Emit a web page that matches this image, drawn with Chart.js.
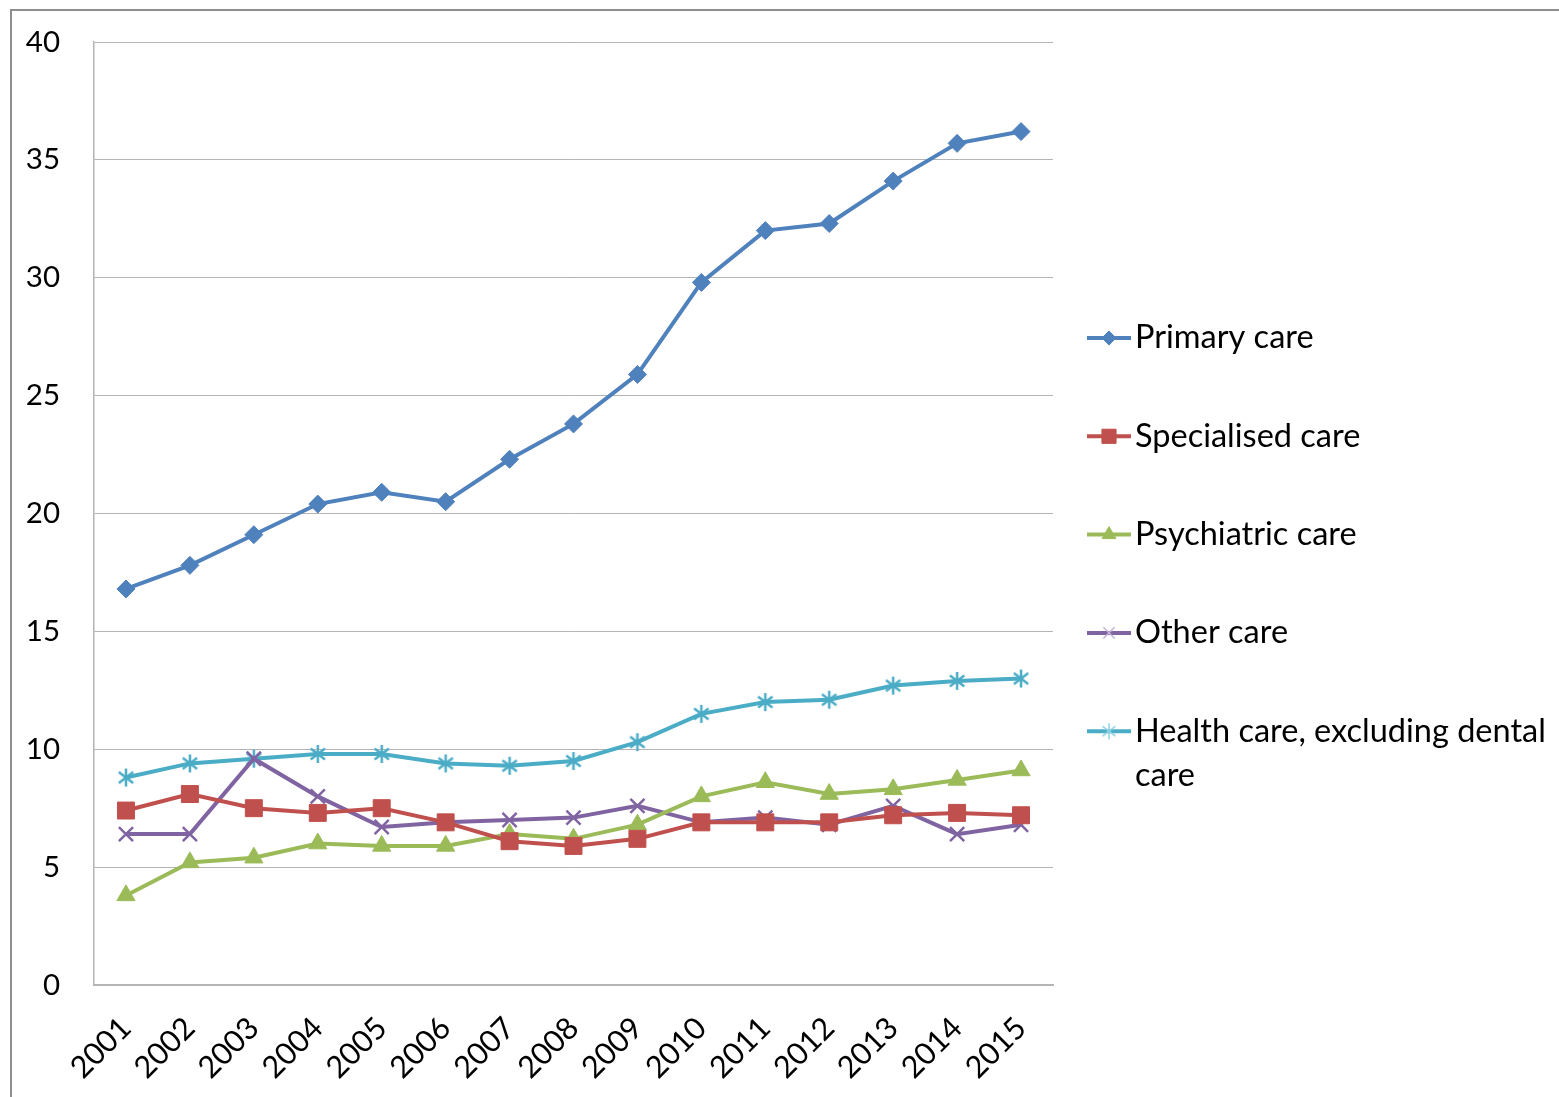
<!DOCTYPE html>
<html>
<head>
<meta charset="utf-8">
<script src="https://cdn.jsdelivr.net/npm/chart.js@4.4.0/dist/chart.umd.min.js"></script>
<style>
html, body { margin: 0; padding: 0; background: #fff; overflow: hidden; }
#frame { position: absolute; left: 10px; top: 9px; width: 1600px; height: 1200px; border: 2px solid #8e8e8e; }
#wrap { position: absolute; left: 0; top: 0; width: 1559px; height: 1097px; }
</style>
</head>
<body>
<div id="frame"></div>
<div id="wrap"><canvas id="myChart" width="1559" height="1097"></canvas></div>
<script>
const years = ['2001','2002','2003','2004','2005','2006','2007','2008','2009','2010','2011','2012','2013','2014','2015'];

const primaryCare     = [16.8, 17.8, 19.1, 20.4, 20.9, 20.5, 22.3, 23.8, 25.9, 29.8, 32.0, 32.3, 34.1, 35.7, 36.2];
const specialisedCare = [7.4, 8.1, 7.5, 7.3, 7.5, 6.9, 6.1, 5.9, 6.2, 6.9, 6.9, 6.9, 7.2, 7.3, 7.2];
const psychiatricCare = [3.8, 5.2, 5.4, 6.0, 5.9, 5.9, 6.4, 6.2, 6.8, 8.0, 8.6, 8.1, 8.3, 8.7, 9.1];
const otherCare       = [6.4, 6.4, 9.6, 8.0, 6.7, 6.9, 7.0, 7.1, 7.6, 6.9, 7.1, 6.8, 7.6, 6.4, 6.8];
const healthCare      = [8.8, 9.4, 9.6, 9.8, 9.8, 9.4, 9.3, 9.5, 10.3, 11.5, 12.0, 12.1, 12.7, 12.9, 13.0];

const seriesNames = ['Primary care', 'Specialised care', 'Psychiatric care', 'Other care', 'Health care, excluding dental care'];

const COLORS = {
  blue: '#4f81bd',
  red: '#c0504d',
  green: '#9bbb59',
  purple: '#8064a2',
  cyan: '#4bacc6'
};

const FONT = 'Lato, "Open Sans", sans-serif';
const GRID = '#b4b4b4';

// six-armed asterisk marker (vertical bar plus an X)
function asterisk(color, size, lw) {
  const c = document.createElement('canvas');
  c.width = size;
  c.height = size;
  const g = c.getContext('2d');
  const m = size / 2, r = size / 2 - 1;
  g.strokeStyle = color;
  g.lineWidth = lw;
  g.beginPath();
  g.moveTo(m, m - r); g.lineTo(m, m + r);
  g.moveTo(m - 0.8 * r, m - 0.6 * r); g.lineTo(m + 0.8 * r, m + 0.6 * r);
  g.moveTo(m - 0.8 * r, m + 0.6 * r); g.lineTo(m + 0.8 * r, m - 0.6 * r);
  g.stroke();
  return c;
}

function line(label, data, color, style, radius, bw) {
  return {
    label: label,
    data: data,
    borderColor: color,
    backgroundColor: color,
    borderWidth: 4,
    tension: 0,
    pointStyle: style,
    pointRadius: radius,
    pointHoverRadius: radius,
    pointBorderWidth: bw,
    pointBorderColor: color,
    pointBackgroundColor: color
  };
}

const data = {
  labels: years,
  datasets: [
    line(seriesNames[0], primaryCare, COLORS.blue, 'rectRot', 9, 1),
    line(seriesNames[1], specialisedCare, COLORS.red, 'rect', 12, 1),
    line(seriesNames[2], psychiatricCare, COLORS.green, 'triangle', 10.5, 1),
    line(seriesNames[3], otherCare, COLORS.purple, 'crossRot', 10, 2.5),
    line(seriesNames[4], healthCare, COLORS.cyan, asterisk(COLORS.cyan, 20, 2.5), 9, 2.5)
  ]
};

const legendMarks = [
  { style: 'rectRot', r: 7 },
  { style: 'rect', r: 10 },
  { style: 'triangle', r: 8 },
  { style: 'crossRot', r: 8 },
  { style: asterisk('#8ed0e2', 18, 1.5), r: 8 }
];

// legend on the right, one row per series, long names wrap
const sideLegend = {
  id: 'sideLegend',
  afterDraw(chart) {
    const ctx = chart.ctx;
    const firstRow = 338, rowGap = 98.3, lineGap = 44;
    const x0 = 1087, x1 = 1131, textX = 1135;
    const maxW = chart.width - textX - 2;
    ctx.save();
    ctx.font = '32.5px ' + FONT;
    ctx.textBaseline = 'middle';
    chart.data.datasets.forEach((ds, i) => {
      const y = firstRow + i * rowGap;
      ctx.strokeStyle = ds.borderColor;
      ctx.lineWidth = 4;
      ctx.beginPath();
      ctx.moveTo(x0, y);
      ctx.lineTo(x1, y);
      ctx.stroke();
      ctx.fillStyle = ds.borderColor;
      ctx.strokeStyle = i === 3 ? '#c3b3d8' : ds.borderColor;
      ctx.lineWidth = i === 3 ? 1.5 : 1;
      Chart.helpers.drawPoint(ctx, {
        pointStyle: legendMarks[i].style,
        radius: legendMarks[i].r,
        rotation: 0,
        borderWidth: ctx.lineWidth
      }, (x0 + x1) / 2, y);

      // word wrap
      const words = ds.label.split(' ');
      const lines = [];
      let cur = '';
      words.forEach(w => {
        const test = cur ? cur + ' ' + w : w;
        if (ctx.measureText(test).width > maxW && cur) {
          lines.push(cur);
          cur = w;
        } else {
          cur = test;
        }
      });
      lines.push(cur);
      ctx.fillStyle = '#000';
      lines.forEach((t, k) => ctx.fillText(t, textX, y + k * lineGap));
    });
    ctx.restore();
  }
};

const config = {
  type: 'line',
  data: data,
  options: {
    responsive: false,
    animation: false,
    devicePixelRatio: 1,
    layout: {
      padding: { left: 0, top: 42, right: 506, bottom: 0 }
    },
    plugins: {
      legend: { display: false },
      tooltip: { enabled: false }
    },
    scales: {
      x: {
        offset: true,
        grid: { display: true, drawOnChartArea: false, drawTicks: false },
        border: { display: true, color: GRID, width: 2 },
        ticks: {
          color: '#000',
          font: { family: FONT, size: 30.5 },
          minRotation: 45,
          maxRotation: 45,
          padding: 25
        },
        afterFit(scale) {
          scale.height = 112;
          scale.paddingLeft = 0;
          scale.paddingRight = 0;
        }
      },
      y: {
        min: 0,
        max: 40,
        grid: { color: GRID, lineWidth: 1, drawTicks: false },
        border: { display: true, color: GRID, width: 1.5 },
        ticks: {
          stepSize: 5,
          color: '#000',
          font: { family: FONT, size: 29.5 },
          padding: 34
        },
        afterFit(scale) {
          scale.width = 94;
          scale.paddingTop = 0;
          scale.paddingBottom = 0;
        }
      }
    }
  },
  plugins: [sideLegend]
};

const myChart = new Chart(document.getElementById('myChart'), config);
</script>
</body>
</html>
